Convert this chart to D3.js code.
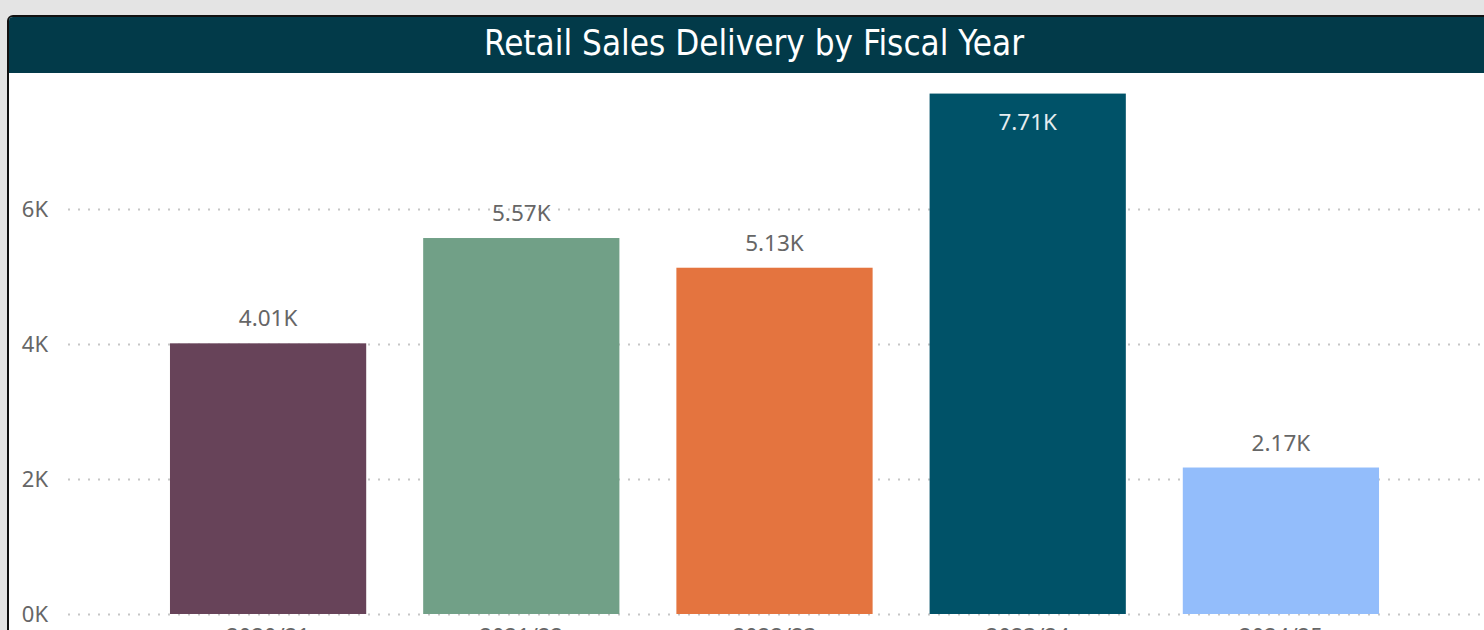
<!DOCTYPE html>
<html>
<head>
<meta charset="utf-8">
<script src="https://cdn.jsdelivr.net/npm/d3@7/dist/d3.min.js"></script>
<style>
  html, body { margin: 0; padding: 0; background: #e4e4e4; overflow: hidden; }
  svg { display: block; }
</style>
</head>
<body>
<svg id="chart" width="1484" height="630"></svg>
<script>
const categories = ["2020/21", "2021/22", "2022/23", "2023/24", "2024/25"];
const values = [4010, 5570, 5130, 7710, 2170];
const valueLabels = ["4.01K", "5.57K", "5.13K", "7.71K", "2.17K"];
const barColors = ["#674359", "#71a087", "#e4743f", "#005268", "#93bdfb"];
const yTicks = [0, 2000, 4000, 6000];
const title = "Retail Sales Delivery by Fiscal Year";

const W = 1484, H = 630;
const svg = d3.select("#chart");

// page background
svg.append("rect").attr("width", W).attr("height", H).attr("fill", "#e4e4e4");

// panel with dark border
svg.append("rect")
  .attr("x", 8).attr("y", 16).attr("width", W + 20).attr("height", H + 20)
  .attr("rx", 5).attr("fill", "#ffffff")
  .attr("stroke", "#111").attr("stroke-width", 2);

// title bar
const clip = svg.append("defs").append("clipPath").attr("id", "panelClip");
clip.append("rect").attr("x", 9).attr("y", 17).attr("width", W + 20).attr("height", H + 20).attr("rx", 4);
svg.append("rect")
  .attr("x", 9).attr("y", 17).attr("width", W).attr("height", 56)
  .attr("fill", "#023a49").attr("clip-path", "url(#panelClip)");
svg.append("text")
  .attr("x", 754).attr("y", 55)
  .attr("text-anchor", "middle")
  .attr("fill", "#ffffff")
  .attr("font-family", "'Liberation Sans Narrow', 'DejaVu Sans Condensed', Roboto, sans-serif")
  .attr("font-size", 35)
  .attr("textLength", 540)
  .attr("lengthAdjust", "spacingAndGlyphs")
  .text(title);

// scales
const x = d3.scaleBand().domain(categories).range([113, 1436]).paddingInner(0.225).paddingOuter(0.225);
const y = d3.scaleLinear().domain([0, 8000]).range([614, 74]);

const font = "'Noto Sans', 'Open Sans', sans-serif";

// gridlines
const grid = svg.append("g");
grid.selectAll("line").data(yTicks).join("line")
  .attr("x1", 68).attr("x2", W)
  .attr("y1", d => y(d) + 0.5).attr("y2", d => y(d) + 0.5)
  .attr("stroke", "#c6c6c6").attr("stroke-width", 2)
  .attr("stroke-dasharray", "2,8");

// y axis labels
const yAxis = d3.axisLeft(y).tickValues(yTicks).tickFormat(d => (d / 1000) + "K").tickSize(0).tickPadding(0);
const yg = svg.append("g").attr("transform", "translate(48,0)").call(yAxis);
yg.select(".domain").remove();
yg.selectAll("text")
  .attr("font-family", font).attr("font-size", 22).attr("fill", "#666666")
  .attr("dy", "0.36em");

// bars
svg.append("g").selectAll("rect").data(values).join("rect")
  .attr("x", (d, i) => x(categories[i]))
  .attr("width", x.bandwidth())
  .attr("y", d => y(d))
  .attr("height", d => y(0) - y(d))
  .attr("fill", (d, i) => barColors[i]);

// data labels
svg.append("g").selectAll("text").data(values).join("text")
  .attr("x", (d, i) => x(categories[i]) + x.bandwidth() / 2)
  .attr("y", (d, i) => i === 3 ? y(d) + 36 : y(d) - 17)
  .attr("text-anchor", "middle")
  .attr("font-family", font).attr("font-size", 22.5)
  .attr("fill", (d, i) => i === 3 ? "#e6edf0" : "#666666")
  .text((d, i) => valueLabels[i]);

// x axis labels
const xAxis = d3.axisBottom(x).tickSize(0).tickPadding(0);
const xg = svg.append("g").attr("transform", "translate(0,644)").call(xAxis);
xg.select(".domain").remove();
xg.selectAll("text")
  .attr("font-family", font).attr("font-size", 22).attr("fill", "#666666")
  .attr("dy", "0");
</script>
</body>
</html>
